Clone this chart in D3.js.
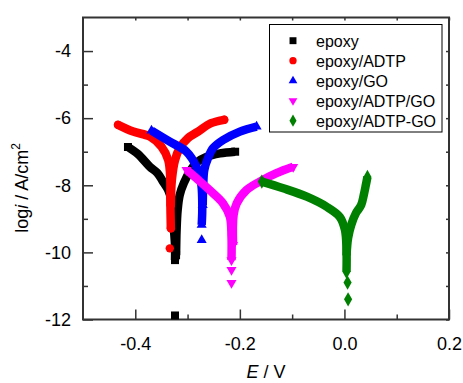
<!DOCTYPE html>
<html>
<head>
<meta charset="utf-8">
<script src="https://cdn.jsdelivr.net/npm/d3@7"></script>
<style>
  body { margin: 0; background: #fff; }
  svg { display: block; font-family: "Liberation Sans", Arial, sans-serif; }
</style>
</head>
<body>
<svg id="chart" width="463" height="383"></svg>
<script>
// Tafel polarisation curves: potential E (V) vs log current density (A/cm^2).
// Each coating has a cathodic branch, an anodic branch and a few isolated
// points near the corrosion potential.

const seriesNames = ["epoxy", "epoxy/ADTP", "epoxy/GO", "epoxy/ADTP/GO", "epoxy/ADTP-GO"];

// [E, log i]
const epoxyCathodic = [[-0.414,-6.86],[-0.395,-7.07],[-0.372,-7.45],[-0.358,-7.63],[-0.347,-7.89],
  [-0.337,-8.14],[-0.331,-8.44],[-0.328,-8.89],[-0.326,-9.33],[-0.324,-9.78],[-0.324,-10.23]];
const epoxyAnodic = [[-0.322,-10.08],[-0.321,-9.33],[-0.319,-8.74],[-0.315,-8.29],[-0.307,-7.93],
  [-0.295,-7.57],[-0.282,-7.31],[-0.265,-7.16],[-0.238,-7.05],[-0.209,-7.00]];
const epoxyIsolated = [[-0.324,-11.88]];

const adtpCathodic = [[-0.433,-6.20],[-0.404,-6.40],[-0.372,-6.55],[-0.350,-6.85],[-0.337,-7.25],
  [-0.333,-7.84],[-0.333,-8.44],[-0.332,-9.28]];
const adtpAnodic = [[-0.332,-8.59],[-0.330,-7.84],[-0.324,-7.25],[-0.315,-6.89],[-0.299,-6.59],
  [-0.280,-6.40],[-0.255,-6.15],[-0.230,-6.05]];
const adtpIsolated = [[-0.334,-9.88]];

const goCathodic = [[-0.369,-6.37],[-0.334,-6.70],[-0.302,-7.00],[-0.283,-7.45],[-0.274,-7.94],
  [-0.272,-8.44],[-0.272,-8.83],[-0.273,-9.18]];
const goAnodic = [[-0.271,-8.59],[-0.270,-7.99],[-0.268,-7.54],[-0.261,-7.19],[-0.251,-6.89],
  [-0.232,-6.65],[-0.200,-6.40],[-0.168,-6.25]];
const goIsolated = [[-0.273,-9.63]];

const adtpGoCathodic = [[-0.302,-7.54],[-0.276,-7.89],[-0.251,-8.24],[-0.232,-8.54],[-0.219,-8.94],
  [-0.216,-9.53],[-0.216,-10.23]];
const adtpGoAnodic = [[-0.213,-9.78],[-0.212,-8.89],[-0.206,-8.54],[-0.187,-8.14],[-0.162,-7.89],
  [-0.130,-7.64],[-0.098,-7.45]];
const adtpGoIsolated = [[-0.216,-10.52],[-0.216,-10.91]];

const adtpHybridCathodic = [[-0.158,-7.89],[-0.117,-8.09],[-0.072,-8.34],[-0.034,-8.64],[-0.009,-8.94],
  [0.001,-9.33],[0.004,-9.93],[0.004,-10.58]];
const adtpHybridAnodic = [[0.004,-10.08],[0.007,-9.57],[0.013,-9.18],[0.022,-8.83],[0.032,-8.59],
  [0.037,-8.29],[0.041,-7.99],[0.044,-7.75]];
const adtpHybridIsolated = [[0.006,-10.90],[0.007,-11.40]];

const xMajorTicks = [-0.4, -0.2, 0.0, 0.2];
const xMinorTicks = [-0.3, -0.1, 0.1];
const yMajorTicks = [-12, -10, -8, -6, -4];
const yMinorTicks = [-11, -9, -7, -5];

const colors = ["#000000", "#ff0000", "#0000ff", "#ff00ff", "#008000"];

const series = [
  { name: seriesNames[0], branches: [epoxyCathodic, epoxyAnodic], isolated: epoxyIsolated },
  { name: seriesNames[1], branches: [adtpCathodic, adtpAnodic], isolated: adtpIsolated },
  { name: seriesNames[2], branches: [goCathodic, goAnodic], isolated: goIsolated },
  { name: seriesNames[3], branches: [adtpGoCathodic, adtpGoAnodic], isolated: adtpGoIsolated },
  { name: seriesNames[4], branches: [adtpHybridCathodic, adtpHybridAnodic], isolated: adtpHybridIsolated }
];

// marker shapes per series
const symbolTypes = [d3.symbolSquare, d3.symbolCircle, d3.symbolTriangle, d3.symbolTriangle, d3.symbolDiamond];
const symbolSizes = [64, 56, 44, 44, 58];
const symbolRotate = [0, 0, 0, 180, 0];

const svg = d3.select("#chart");
const plot = { left: 83, right: 449, top: 17.5, bottom: 319.5 };

const x = d3.scaleLinear().domain([-0.5, 0.2]).range([plot.left, plot.right]);
const y = d3.scaleLinear().domain([-12, -3]).range([plot.bottom, plot.top]);

const axisColor = "#333";
const fmtX = d => d.toFixed(1);
const fmtY = d => String(d);

// bottom axis: major + minor ticks pointing inward
const gx = svg.append("g").attr("transform", `translate(0,${plot.bottom})`);
gx.call(d3.axisBottom(x).tickValues(xMajorTicks).tickSize(-10).tickPadding(18).tickFormat(fmtX));
gx.append("g").call(d3.axisBottom(x).tickValues(xMinorTicks).tickSize(-5).tickFormat(""));
// left axis
const gy = svg.append("g").attr("transform", `translate(${plot.left},0)`);
gy.call(d3.axisLeft(y).tickValues(yMajorTicks).tickSize(-10).tickPadding(12).tickFormat(fmtY));
gy.append("g").call(d3.axisLeft(y).tickValues(yMinorTicks).tickSize(-5).tickFormat(""));
// top and right axes: small inward ticks
const gt = svg.append("g").attr("transform", `translate(0,${plot.top})`);
gt.call(d3.axisTop(x).tickValues(xMajorTicks.concat(xMinorTicks)).tickSize(-3).tickFormat(""));
const gr = svg.append("g").attr("transform", `translate(${plot.right},0)`);
gr.call(d3.axisRight(y).tickValues(yMajorTicks.concat(yMinorTicks)).tickSize(-3).tickFormat(""));

svg.selectAll(".domain").remove();
svg.selectAll(".tick line").attr("stroke", axisColor).attr("stroke-width", 1.5);
svg.selectAll(".tick text").attr("fill", "#000").attr("font-size", 18)
  .attr("font-family", "'Liberation Sans', Arial, sans-serif");

// frame
svg.append("rect")
  .attr("x", plot.left).attr("y", plot.top)
  .attr("width", plot.right - plot.left).attr("height", plot.bottom - plot.top)
  .attr("fill", "none").attr("stroke", axisColor).attr("stroke-width", 2);

// curves: dense markers rendered as a thick band, marker glyphs at the ends
const line = d3.line().x(d => x(d[0])).y(d => y(d[1])).curve(d3.curveCatmullRom.alpha(0.5));
const gData = svg.append("g");
series.forEach((s, i) => {
  const g = gData.append("g");
  s.branches.forEach(b => {
    g.append("path").attr("d", line(b))
      .attr("fill", "none").attr("stroke", colors[i])
      .attr("stroke-width", 8.5)
      .attr("stroke-linejoin", "round")
      .attr("stroke-linecap", i === 1 ? "round" : "butt");
  });
  const sym = d3.symbol().type(symbolTypes[i]).size(symbolSizes[i]);
  const ends = s.branches.flatMap(b => [b[0], b[b.length - 1]]);
  g.selectAll("path.m").data(ends.concat(s.isolated)).join("path").attr("class", "m")
    .attr("d", sym)
    .attr("transform", d => `translate(${x(d[0])},${y(d[1])}) rotate(${symbolRotate[i]})`)
    .attr("fill", colors[i]);
});

// legend
const legend = svg.append("g");
legend.append("rect").attr("x", 269.5).attr("y", 24.5).attr("width", 172.5).attr("height", 107.5)
  .attr("fill", "#fff").attr("stroke", "#000").attr("stroke-width", 1);
series.forEach((s, i) => {
  const cy = 40.7 + i * 20;
  legend.append("path")
    .attr("d", d3.symbol().type(symbolTypes[i]).size(symbolSizes[i] * 0.75)())
    .attr("transform", `translate(293,${cy}) rotate(${symbolRotate[i]})`)
    .attr("fill", colors[i]);
  legend.append("text").attr("x", 316).attr("y", cy + 5.8)
    .attr("font-size", 16).attr("fill", "#000").text(s.name);
});

// axis titles
const xt = svg.append("text").attr("x", (plot.left + plot.right) / 2).attr("y", 378)
  .attr("text-anchor", "middle").attr("font-size", 18).attr("fill", "#000");
xt.append("tspan").attr("font-style", "italic").text("E");
xt.append("tspan").text(" / V");

const yt = svg.append("text").attr("transform", "translate(28,188) rotate(-90)")
  .attr("text-anchor", "middle").attr("font-size", 18).attr("fill", "#000");
yt.append("tspan").text("log");
yt.append("tspan").attr("font-style", "italic").text("i");
yt.append("tspan").text(" / A/cm");
yt.append("tspan").attr("font-size", 12).attr("dy", -8).text("2");
</script>
</body>
</html>
